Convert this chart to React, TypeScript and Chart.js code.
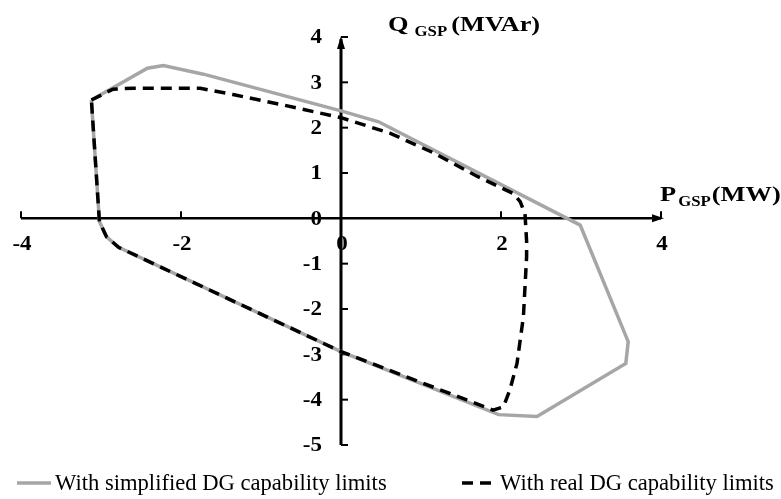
import React, { useEffect, useRef } from 'react';
import { Chart, registerables } from 'chart.js';

Chart.register(...registerables);

// Axis ticks
const P_TICKS = [-4, -2, 0, 2, 4];
const Q_TICKS = [-5, -4, -3, -2, -1, 0, 1, 2, 3, 4];

// Series labels
const SERIES_LABELS = ['With simplified DG capability limits', 'With real DG capability limits'];

// Feasible region boundary with simplified DG capability limits (P in MW, Q in MVAr)
const simplifiedP = [-3.12, -2.42, -2.22, -1.72, 0, 0.47, 2.99, 3.59, 3.56, 2.45, 1.97, 0, -2.78, -2.93, -3.02, -3.12];
const simplifiedQ = [2.61, 3.31, 3.37, 3.18, 2.37, 2.13, -0.15, -2.72, -3.2, -4.37, -4.33, -2.94, -0.64, -0.41, -0.07, 2.61];

// Feasible region boundary with real DG capability limits
const realP = [-3.12, -2.85, -2.6, -1.76, -1.35, -0.72, 0, 0.61, 1.15, 1.7, 2.15, 2.24, 2.3, 2.32, 2.32, 2.28, 2.2, 2.11, 2.03, 1.9, 0, -2.78, -2.93, -3.02, -3.12];
const realQ = [2.61, 2.85, 2.87, 2.87, 2.73, 2.5, 2.22, 1.88, 1.45, 0.93, 0.55, 0.37, 0.1, -0.5, -0.85, -2.17, -3.2, -3.79, -4.16, -4.23, -2.94, -0.64, -0.41, -0.07, 2.61];

const FONT = '"Liberation Serif", "Times New Roman", serif';

function toPoints(xs: number[], ys: number[]) {
  return xs.map((x, i) => ({ x, y: ys[i] }));
}

function stretchedText(
  ctx: CanvasRenderingContext2D,
  text: string,
  x: number,
  y: number,
  font: string,
  align: CanvasTextAlign,
  baseline: CanvasTextBaseline,
  sx: number
) {
  ctx.save();
  ctx.translate(x, y);
  ctx.scale(sx, 1);
  ctx.font = font;
  ctx.textAlign = align;
  ctx.textBaseline = baseline;
  ctx.fillStyle = '#000';
  ctx.fillText(text, 0, 0);
  ctx.restore();
}

function textWidth(ctx: CanvasRenderingContext2D, text: string, font: string, sx: number) {
  ctx.save();
  ctx.font = font;
  const w = ctx.measureText(text).width * sx;
  ctx.restore();
  return w;
}

// Draws a label made of a main symbol, a subscript and a unit
function drawSubLabel(
  ctx: CanvasRenderingContext2D,
  x: number,
  baseline: number,
  main: string,
  sub: string,
  unit: string,
  mainSize: number,
  subSize: number,
  sx: number,
  gap1: number,
  gap2: number
) {
  const mainFont = `bold ${mainSize}px ${FONT}`;
  const subFont = `bold ${subSize}px ${FONT}`;
  let cx = x;
  stretchedText(ctx, main, cx, baseline, mainFont, 'left', 'alphabetic', sx);
  cx += textWidth(ctx, main, mainFont, sx) + gap1;
  stretchedText(ctx, sub, cx, baseline + 5, subFont, 'left', 'alphabetic', sx);
  cx += textWidth(ctx, sub, subFont, sx) + gap2;
  stretchedText(ctx, unit, cx, baseline, mainFont, 'left', 'alphabetic', sx);
}

const centerAxes = {
  id: 'centerAxes',
  beforeDatasetsDraw(chart: any) {
    const ctx: CanvasRenderingContext2D = chart.ctx;
    const xs = chart.scales.x;
    const ys = chart.scales.y;
    const x0 = xs.getPixelForValue(0);
    const y0 = ys.getPixelForValue(0);
    const xMin = xs.getPixelForValue(P_TICKS[0]);
    const xMax = xs.getPixelForValue(P_TICKS[P_TICKS.length - 1]);
    const yMin = ys.getPixelForValue(Q_TICKS[0]);
    const yMax = ys.getPixelForValue(Q_TICKS[Q_TICKS.length - 1]);

    ctx.save();
    ctx.strokeStyle = '#000';
    ctx.fillStyle = '#000';

    // horizontal P axis
    ctx.lineWidth = 2.5;
    ctx.beginPath();
    ctx.moveTo(xMin, y0);
    ctx.lineTo(xMax, y0);
    ctx.stroke();

    // vertical Q axis
    ctx.lineWidth = 3;
    ctx.beginPath();
    ctx.moveTo(x0, yMin);
    ctx.lineTo(x0, yMax + 2);
    ctx.stroke();

    // tick marks
    ctx.lineWidth = 2;
    P_TICKS.forEach((p) => {
      if (p === 0) return;
      const px = xs.getPixelForValue(p);
      ctx.beginPath();
      ctx.moveTo(px, y0);
      ctx.lineTo(px, y0 - 7);
      ctx.stroke();
    });
    Q_TICKS.forEach((q) => {
      if (q === 0) return;
      const py = ys.getPixelForValue(q);
      ctx.beginPath();
      ctx.moveTo(x0, py);
      ctx.lineTo(x0 + 7, py);
      ctx.stroke();
    });

    // arrow heads
    ctx.beginPath();
    ctx.moveTo(xMax + 3, y0);
    ctx.lineTo(xMax - 9, y0 - 4);
    ctx.lineTo(xMax - 9, y0 + 4);
    ctx.closePath();
    ctx.fill();

    ctx.beginPath();
    ctx.moveTo(x0, yMax - 1);
    ctx.lineTo(x0 - 4, yMax + 12);
    ctx.lineTo(x0 + 4, yMax + 12);
    ctx.closePath();
    ctx.fill();
    ctx.restore();
  },
  afterDraw(chart: any) {
    const ctx: CanvasRenderingContext2D = chart.ctx;
    const xs = chart.scales.x;
    const ys = chart.scales.y;
    const x0 = xs.getPixelForValue(0);
    const y0 = ys.getPixelForValue(0);
    const tickFont = `bold 20px ${FONT}`;
    const sx = 1.15;

    // tick labels
    Q_TICKS.forEach((q) => {
      stretchedText(ctx, String(q), x0 - 19, ys.getPixelForValue(q) + 1, tickFont, 'right', 'middle', sx);
    });
    P_TICKS.forEach((p) => {
      stretchedText(ctx, String(p), xs.getPixelForValue(p) + 1, y0 + 26, tickFont, 'center', 'middle', sx);
    });

    // axis titles
    drawSubLabel(ctx, x0 + 47, 31, 'Q', 'GSP', '(MVAr)', 22, 14, 1.2, 6, 4);
    drawSubLabel(ctx, xs.getPixelForValue(4) - 1, 201, 'P', 'GSP', '(MW)', 22, 14, 1.2, 2, 1);

    // legend
    const ds = chart.data.datasets;
    const legendY = 483;
    const legendFont = `22.6px ${FONT}`;
    const items = [
      { x1: 17, x2: 51, tx: 55 },
      { x1: 462, x2: 493, tx: 500 },
    ];
    items.forEach((it, i) => {
      const d = ds[i];
      ctx.save();
      ctx.strokeStyle = d.borderColor;
      ctx.lineWidth = d.borderWidth;
      ctx.setLineDash(d.borderDash || []);
      ctx.beginPath();
      ctx.moveTo(it.x1, legendY);
      ctx.lineTo(it.x2, legendY);
      ctx.stroke();
      ctx.restore();
      stretchedText(ctx, d.label, it.tx, legendY + 7, legendFont, 'left', 'alphabetic', 1);
    });
  },
};

export default function App() {
  const canvasRef = useRef<HTMLCanvasElement | null>(null);

  useEffect(() => {
    if (!canvasRef.current) return;
    const chart = new Chart(canvasRef.current, {
      type: 'scatter',
      data: {
        datasets: [
          {
            label: SERIES_LABELS[0],
            data: toPoints(simplifiedP, simplifiedQ),
            showLine: true,
            borderColor: '#a6a6a6',
            backgroundColor: '#a6a6a6',
            borderWidth: 3.5,
            pointRadius: 0,
            tension: 0,
            order: 2,
          },
          {
            label: SERIES_LABELS[1],
            data: toPoints(realP, realQ),
            showLine: true,
            borderColor: '#000000',
            backgroundColor: '#000000',
            borderWidth: 3.5,
            borderDash: [11, 7],
            pointRadius: 0,
            tension: 0,
            order: 1,
          },
        ],
      },
      options: {
        responsive: false,
        animation: false,
        devicePixelRatio: 1,
        layout: { padding: { left: 21, right: 120, top: 37, bottom: 54 } },
        plugins: { legend: { display: false }, tooltip: { enabled: false } },
        scales: {
          x: { type: 'linear', min: -4, max: 4, display: false },
          y: { type: 'linear', min: -5, max: 4, display: false },
        },
      },
      plugins: [centerAxes],
    });
    return () => chart.destroy();
  }, []);

  return (
    <div style={{ position: 'fixed', left: 0, top: 0, width: 781, height: 499, background: '#fff' }}>
      <canvas ref={canvasRef} width={781} height={499} style={{ width: 781, height: 499, display: 'block' }} />
    </div>
  );
}
